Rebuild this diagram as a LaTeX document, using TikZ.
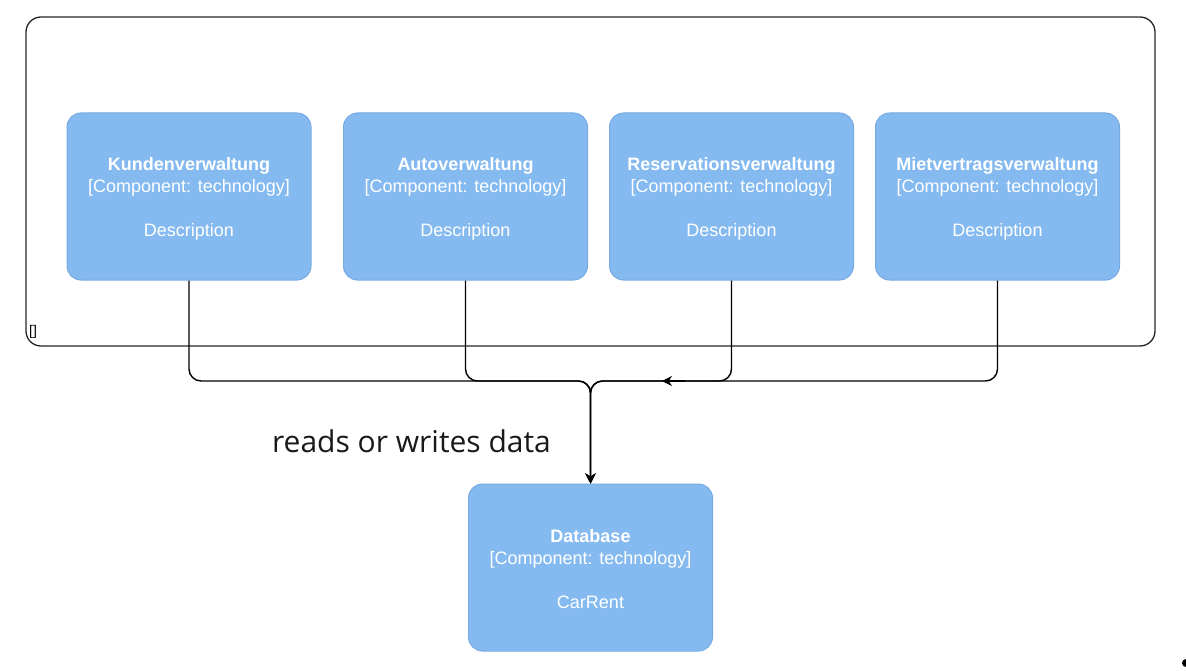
\documentclass[tikz,border=0pt]{standalone}
\usepackage{fontspec}
\setmainfont{Liberation Sans}
\newfontfamily\labelfont{Open Sans}
\usetikzlibrary{arrows.meta}
\definecolor{boxfill}{HTML}{85BAF0}
\definecolor{boxline}{HTML}{78AAE2}
\begin{document}
\begin{tikzpicture}[x=1pt,y=-1pt,
  comp/.style={draw=boxline,line width=1pt,fill=boxfill,rounded corners=14pt,minimum width=244pt,minimum height=167pt,inner sep=0pt},
  comptext/.style={align=center,text=white,font=\fontsize{18}{22}\selectfont,inner sep=0pt},
  conn/.style={draw=black,line width=1.4pt,rounded corners=12pt},
  tip/.style={-{Stealth[length=10pt,width=10pt]}}]
\useasboundingbox (0,0) rectangle (1186,671);
\node[draw=black!85,line width=1.3pt,rounded corners=15pt,minimum width=1129pt,minimum height=329pt,inner sep=0pt] (sys) at (590.5,181.5) {};
\node[anchor=south west,font=\fontsize{14}{14}\selectfont,inner sep=0pt] (sl) at (29,339) {{[]}};
\node[comp] (k) at (189,196.5) {};
\node[comp] (a) at (465.5,196.5) {};
\node[comp] (r) at (731.5,196.5) {};
\node[comp] (m) at (997.5,196.5) {};
\node[comp] (db) at (590.5,567.5) {};
\node[comptext] (kt) at ([yshift=-2pt]k.center) {\textbf{Kundenverwaltung}\\{}[Component: technology]\\ \\Description};
\node[comptext] (at) at ([yshift=-2pt]a.center) {\textbf{Autoverwaltung}\\{}[Component: technology]\\ \\Description};
\node[comptext] (rt) at ([yshift=-2pt]r.center) {\textbf{Reservationsverwaltung}\\{}[Component: technology]\\ \\Description};
\node[comptext] (mt) at ([yshift=-2pt]m.center) {\textbf{Mietvertragsverwaltung}\\{}[Component: technology]\\ \\Description};
\node[comptext] (dbt) at ([yshift=-2pt]db.center) {\textbf{Database}\\{}[Component: technology]\\ \\CarRent};
\coordinate (j) at (590.5,381);
\coordinate (ta) at (685,381);
\coordinate (tb) at (662,381);
\draw[conn,tip] (k.south) |- (j) -- (db.north);
\draw[conn,tip] (a.south) |- (j) -- (db.north);
\draw[conn,tip] (r.south) |- (j) -- (db.north);
\draw[conn,tip] (m.south) |- (j) -- (db.north);
\draw[line width=1.4pt,tip] (ta) -- (tb);
\node[font=\labelfont\fontsize{30}{34}\selectfont,text=black!90,inner sep=0pt] (lbl) at (411.5,441) {reads or writes data};
\fill[black] (1186,663) circle (4pt);
\end{tikzpicture}
\end{document}
